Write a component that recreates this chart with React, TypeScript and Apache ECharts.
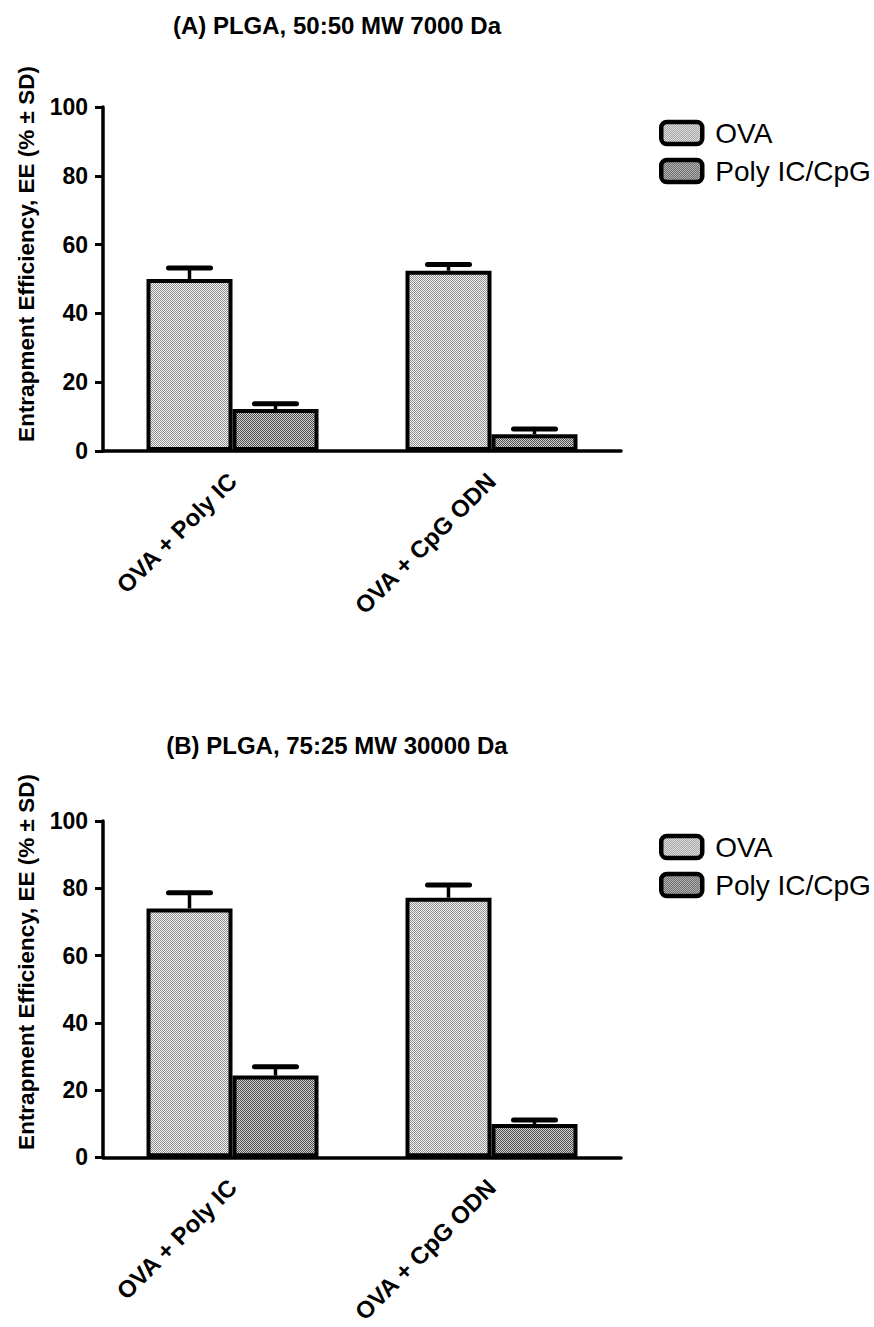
import React, { useEffect, useRef } from "react";
import * as echarts from "echarts";

const categories = ["OVA + Poly IC", "OVA + CpG ODN"];
const seriesNames = ["OVA", "Poly IC/CpG"];
const titleA = "(A) PLGA, 50:50 MW 7000 Da";
const titleB = "(B) PLGA, 75:25 MW 30000 Da";
const yAxisName = "Entrapment Efficiency, EE (% \u00b1 SD)";
const ovaA = [50.0, 52.4];
const ovaSdA = [3.2, 1.8];
const polyA = [12.2, 4.9];
const polySdA = [1.5, 1.5];
const ovaB = [74.0, 77.2];
const ovaSdB = [4.7, 3.8];
const polyB = [24.3, 9.9];
const polySdB = [2.6, 1.2];

const FONT = "'Liberation Sans', Arial, sans-serif";

function makePattern(dark: string, light: string) {
  const c = document.createElement("canvas");
  c.width = 2;
  c.height = 2;
  const ctx = c.getContext("2d")!;
  ctx.fillStyle = light;
  ctx.fillRect(0, 0, 2, 2);
  ctx.fillStyle = dark;
  ctx.fillRect(0, 0, 1, 1);
  ctx.fillRect(1, 1, 1, 1);
  return { image: c, repeat: "repeat" } as any;
}

export default function App() {
  const ref = useRef<HTMLDivElement>(null);
  useEffect(() => {
    if (!ref.current) return;
    const chart = echarts.init(ref.current, null, { renderer: "svg" });
    const ovaFill = makePattern("#8e8e8e", "#f4f4f4");
    const polyFill = makePattern("#4e4e4e", "#d0d0d0");
    const BAR_W = 86;
    const grids = [
      { left: 103, top: 107, width: 518, height: 344 },
      { left: 103, top: 821, width: 518, height: 342 },
    ];
    const panels = [
      { ova: ovaA, ovaSd: ovaSdA, poly: polyA, polySd: polySdA },
      { ova: ovaB, ovaSd: ovaSdB, poly: polyB, polySd: polySdB },
    ];
    const xAxes = grids.map((_, i) => ({
      type: "category",
      gridIndex: i,
      data: categories,
      boundaryGap: true,
      axisLine: { lineStyle: { color: "#000", width: 3.5 } },
      axisTick: { alignWithLabel: true, length: 9, lineStyle: { color: "#000", width: 3 } },
      axisLabel: {
        interval: 0,
        rotate: 45,
        margin: 26,
        color: "#000",
        fontWeight: "bold",
        fontSize: 24,
        fontFamily: FONT,
      },
    }));
    const yAxes = grids.map((_, i) => ({
      type: "value",
      gridIndex: i,
      min: 0,
      max: 100,
      interval: 20,
      splitLine: { show: false },
      axisLine: { show: true, lineStyle: { color: "#000", width: 3.5 } },
      axisTick: { show: true, length: 8, lineStyle: { color: "#000", width: 3 } },
      axisLabel: {
        margin: 15,
        color: "#000",
        fontWeight: "bold",
        fontSize: 23,
        fontFamily: FONT,
      },
    }));
    const series: any[] = [];
    panels.forEach((p, i) => {
      series.push({
        name: seriesNames[0],
        type: "bar",
        xAxisIndex: i,
        yAxisIndex: i,
        data: p.ova,
        barWidth: BAR_W,
        barGap: "0%",
        itemStyle: { color: ovaFill, borderColor: "#000", borderWidth: 4 },
        z: 2,
      });
      series.push({
        name: seriesNames[1],
        type: "bar",
        xAxisIndex: i,
        yAxisIndex: i,
        data: p.poly,
        barWidth: BAR_W,
        barGap: "0%",
        itemStyle: { color: polyFill, borderColor: "#000", borderWidth: 4 },
        z: 2,
      });
      const errData: any[] = [];
      p.ova.forEach((v, k) => errData.push([k, v, p.ovaSd[k], -1]));
      p.poly.forEach((v, k) => errData.push([k, v, p.polySd[k], 1]));
      series.push({
        type: "custom",
        xAxisIndex: i,
        yAxisIndex: i,
        data: errData,
        z: 3,
        silent: true,
        renderItem: (params: any, api: any) => {
          const idx = api.value(0);
          const mean = api.value(1);
          const sd = api.value(2);
          const side = api.value(3);
          const base = api.coord([idx, mean]);
          const top = api.coord([idx, mean + sd]);
          const x = base[0] + side * (BAR_W / 2);
          return {
            type: "group",
            children: [
              {
                type: "line",
                shape: { x1: x, y1: base[1], x2: x, y2: top[1] },
                style: { stroke: "#000", lineWidth: 3.5 },
              },
              {
                type: "line",
                shape: { x1: x - 21, y1: top[1], x2: x + 21, y2: top[1] },
                style: { stroke: "#000", lineWidth: 5, lineCap: "round" },
              },
            ],
          };
        },
      });
    });
    const legends = [114, 828].map((top) => ({
      data: seriesNames,
      orient: "vertical",
      left: 654,
      top,
      itemWidth: 41,
      itemHeight: 22,
      itemGap: 10,
      icon: "roundRect",
      selectedMode: false,
      itemStyle: { borderColor: "#000", borderWidth: 4.5 },
      textStyle: {
        color: "#000",
        fontSize: 28,
        fontFamily: FONT,
        lineHeight: 22,
        padding: [0, 0, 0, 8],
      },
    }));
    const texts = [
      { t: titleA, y: 25 },
      { t: titleB, y: 745 },
    ];
    const graphic: any[] = [];
    texts.forEach((o) =>
      graphic.push({
        type: "text",
        x: 337,
        y: o.y,
        style: {
          text: o.t,
          fill: "#000",
          font: `bold 24px ${FONT}`,
          textAlign: "center",
          textVerticalAlign: "middle",
        },
      })
    );
    [254, 962].forEach((y) =>
      graphic.push({
        type: "text",
        x: 26,
        y,
        rotation: Math.PI / 2,
        style: {
          text: yAxisName,
          fill: "#000",
          font: `bold 22.5px ${FONT}`,
          textAlign: "center",
          textVerticalAlign: "middle",
        },
      })
    );
    chart.setOption({
      animation: false,
      backgroundColor: "#fff",
      grid: grids,
      xAxis: xAxes,
      yAxis: yAxes,
      legend: legends,
      series,
      graphic,
    });
    return () => chart.dispose();
  }, []);
  return (
    <div
      ref={ref}
      style={{ position: "absolute", left: 0, top: 0, width: 874, height: 1327 }}
    />
  );
}
